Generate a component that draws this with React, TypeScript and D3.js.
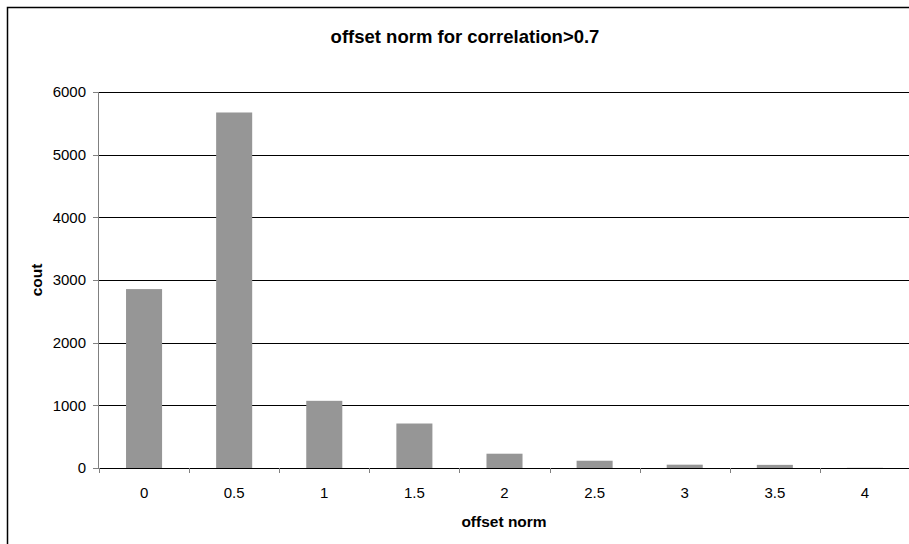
import React from 'react';
import { scaleBand, scaleLinear, range } from 'd3';

// data
const categories = ['0', '0.5', '1', '1.5', '2', '2.5', '3', '3.5', '4'];
const counts = [2855, 5673, 1072, 710, 228, 116, 53, 50, 3];
const yTicks = [0, 1000, 2000, 3000, 4000, 5000, 6000];

const chartTitle = 'offset norm for correlation>0.7';
const xTitle = 'offset norm';
const yTitle = 'cout';

const width = 909;
const height = 544;
const margin = { top: 92, right: -1, bottom: 76, left: 99 };
const font = 'Arial, "Liberation Sans", sans-serif';

export default function App() {
  const innerRight = width - margin.right;
  const innerBottom = height - margin.bottom;

  // category slots (ticks sit on slot edges)
  const xCat = scaleBand().domain(categories).range([margin.left, innerRight]).padding(0);
  // bars: Excel-style gap width 150%
  const xBar = scaleBand()
    .domain(categories)
    .range([margin.left, innerRight])
    .paddingInner(0.6)
    .paddingOuter(0.3);
  const y = scaleLinear().domain([0, 6000]).range([innerBottom, margin.top]);

  const edges = range(categories.length + 1).map(i => margin.left + i * xCat.step());

  return (
    <svg
      width={width}
      height={height}
      style={{ position: 'absolute', left: 0, top: 0, background: '#fff' }}
    >
      {/* chart frame */}
      <rect x={7.5} y={7.5} width={width + 10} height={height + 10} fill="#fff" stroke="#000" strokeWidth={1.5} />

      <text x={465} y={43} textAnchor="middle" fontFamily={font} fontWeight="bold" fontSize={18.5}>
        {chartTitle}
      </text>

      {/* gridlines */}
      {yTicks.filter(t => t > 0).map(t => (
        <line key={t} x1={margin.left} x2={innerRight} y1={Math.round(y(t)) + 0.5} y2={Math.round(y(t)) + 0.5} stroke="#000" strokeWidth={1} />
      ))}

      {/* bars */}
      {counts.map((v, i) => (
        <rect
          key={categories[i]}
          x={xBar(categories[i])}
          y={y(v)}
          width={xBar.bandwidth()}
          height={innerBottom - y(v)}
          fill="#969696"
        />
      ))}

      {/* y axis */}
      <line x1={margin.left - 0.5} x2={margin.left - 0.5} y1={margin.top} y2={innerBottom} stroke="#808080" />
      {yTicks.map(t => (
        <g key={t}>
          <line x1={margin.left - 6} x2={margin.left} y1={Math.round(y(t)) + 0.5} y2={Math.round(y(t)) + 0.5} stroke="#808080" />
          <text x={86} y={y(t)} dy="0.35em" textAnchor="end" fontFamily={font} fontSize={15}>
            {t}
          </text>
        </g>
      ))}
      <text
        transform={`translate(37,${(margin.top + innerBottom) / 2}) rotate(-90)`}
        textAnchor="middle"
        dy="0.35em"
        fontFamily={font}
        fontWeight="bold"
        fontSize={15.5}
      >
        {yTitle}
      </text>

      {/* x axis */}
      <line x1={margin.left} x2={innerRight} y1={Math.round(innerBottom) + 0.5} y2={Math.round(innerBottom) + 0.5} stroke="#000" />
      {edges.map((e, i) => (
        <line key={i} x1={Math.round(e) + 0.5} x2={Math.round(e) + 0.5} y1={innerBottom} y2={innerBottom + 5} stroke="#808080" />
      ))}
      {categories.map(c => (
        <text key={c} x={(xCat(c) as number) + xCat.bandwidth() / 2} y={498} textAnchor="middle" fontFamily={font} fontSize={15}>
          {c}
        </text>
      ))}
      <text x={504} y={527} textAnchor="middle" fontFamily={font} fontWeight="bold" fontSize={15.5}>
        {xTitle}
      </text>
    </svg>
  );
}
